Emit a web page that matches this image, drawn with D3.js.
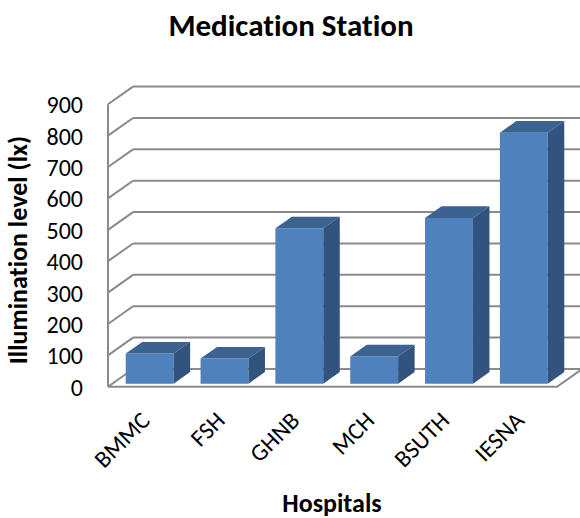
<!DOCTYPE html>
<html>
<head>
<meta charset="utf-8">
<title>Medication Station</title>
<script src="https://d3js.org/d3.v7.min.js"></script>
<style>
  body { margin: 0; background: #fff; }
  text { font-family: Carlito, Calibri, Lato, sans-serif; fill: #000; font-variant-ligatures: none; }
</style>
</head>
<body>
<div id="chart"></div>
<script>
// data
var hospitals = ["BMMC", "FSH", "GHNB", "MCH", "BSUTH", "IESNA"];
var lux = [96, 80, 495, 87, 528, 800];
var yTicks = [0, 100, 200, 300, 400, 500, 600, 700, 800, 900];

var width = 580, height = 518;

var svg = d3.select("#chart").append("svg")
    .attr("width", width)
    .attr("height", height);

// front plane scales
var x = d3.scaleBand()
    .domain(hospitals)
    .range([108, 557])
    .paddingInner(0.36)
    .paddingOuter(0.18);

var y = d3.scaleLinear()
    .domain([0, 900])
    .range([386.7, 104.3]);

// depth of the box (full depth = 1)
var depthX = 25, depthY = -17.7;
function px(xv, d) { return xv + d * depthX; }
function py(yv, d) { return yv + d * depthY; }

var gridColor = "#8a8a8a";
var grid = svg.append("g")
    .attr("stroke", gridColor)
    .attr("stroke-width", 2)
    .attr("fill", "none");

var x0 = x.range()[0], x1 = x.range()[1];

// back wall lines
grid.selectAll(".back")
    .data(yTicks)
    .enter().append("line")
    .attr("x1", px(x0, 1))
    .attr("x2", px(x1, 1))
    .attr("y1", function(d) { return py(y(d), 1); })
    .attr("y2", function(d) { return py(y(d), 1); });

// side wall lines
grid.selectAll(".side")
    .data(yTicks)
    .enter().append("line")
    .attr("x1", x0)
    .attr("x2", px(x0, 1))
    .attr("y1", function(d) { return y(d); })
    .attr("y2", function(d) { return py(y(d), 1); });

// left front edge
grid.append("line")
    .attr("x1", x0).attr("x2", x0)
    .attr("y1", y(900)).attr("y2", y(0));

// floor
grid.append("path")
    .attr("d", "M" + x0 + "," + y(0) + "L" + x1 + "," + y(0) +
        "L" + px(x1, 1) + "," + py(y(0), 1));

// bars
var d0 = 0.17, d1 = 0.83;
var bars = svg.selectAll(".bar")
    .data(hospitals.map(function(h, i) { return { name: h, value: lux[i] }; }))
    .enter().append("g")
    .attr("class", "bar");

function poly(pts) {
    return "M" + pts.map(function(p) { return p[0] + "," + p[1]; }).join("L") + "Z";
}

bars.append("path") // front
    .attr("fill", "#4f81bd")
    .attr("d", function(d) {
        var l = px(x(d.name), d0), r = px(x(d.name) + x.bandwidth(), d0);
        var t = py(y(d.value), d0), b = py(y(0), d0);
        return poly([[l, t], [r, t], [r, b], [l, b]]);
    });

bars.append("path") // top
    .attr("fill", "#3b6291")
    .attr("d", function(d) {
        var l = x(d.name), r = x(d.name) + x.bandwidth(), t = y(d.value);
        return poly([[px(l, d0), py(t, d0)], [px(r, d0), py(t, d0)],
                     [px(r, d1), py(t, d1)], [px(l, d1), py(t, d1)]]);
    });

bars.append("path") // side
    .attr("fill", "#31537e")
    .attr("d", function(d) {
        var r = x(d.name) + x.bandwidth(), t = y(d.value), b = y(0);
        return poly([[px(r, d0), py(t, d0)], [px(r, d1), py(t, d1)],
                     [px(r, d1), py(b, d1)], [px(r, d0), py(b, d0)]]);
    });

// y tick labels
svg.selectAll(".ytick")
    .data(yTicks)
    .enter().append("text")
    .attr("x", 83)
    .attr("y", function(d) { return y(d) + 9; })
    .attr("text-anchor", "end")
    .style("font-size", "24px")
    .text(function(d) { return d; });

// x tick labels
svg.selectAll(".xtick")
    .data(hospitals)
    .enter().append("text")
    .attr("transform", function(d) {
        return "translate(" + (x(d) + x.bandwidth() / 2 + 6) + ",422) rotate(-45)";
    })
    .attr("text-anchor", "end")
    .style("font-size", "24px")
    .text(function(d) { return d; });

// titles
svg.append("text")
    .attr("x", 291).attr("y", 36)
    .attr("text-anchor", "middle")
    .style("font-size", "31px")
    .style("font-weight", "bold")
    .text("Medication Station");

svg.append("text")
    .attr("transform", "translate(27,250) rotate(-90)")
    .attr("text-anchor", "middle")
    .style("font-size", "26px")
    .style("font-weight", "bold")
    .text("Illumination level (lx)");

svg.append("text")
    .attr("x", 332).attr("y", 512)
    .attr("text-anchor", "middle")
    .style("font-size", "26px")
    .style("font-weight", "bold")
    .text("Hospitals");
</script>
</body>
</html>
